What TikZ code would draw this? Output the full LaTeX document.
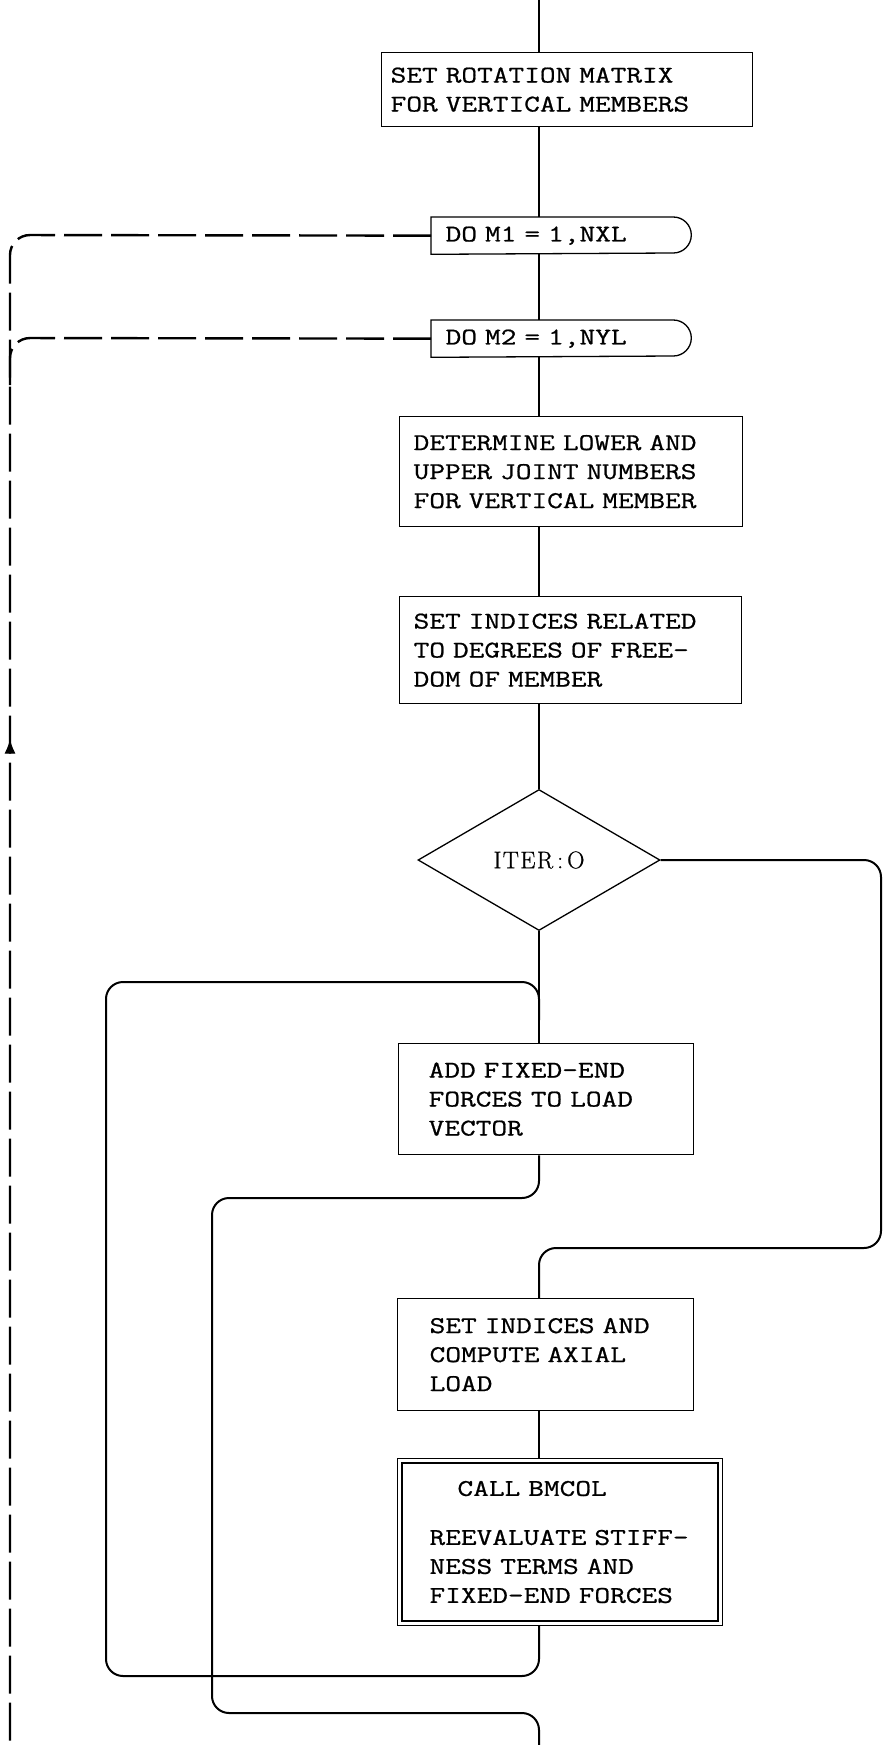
\documentclass[tikz,border=0pt]{standalone}
\usepackage{fontspec}
\newfontfamily\twfam{Latin Modern Mono}[FakeStretch=1.27,FakeBold=0.8]
\newfontfamily\itfam{Latin Modern Roman}[FakeBold=0.8,LetterSpace=6]
\usetikzlibrary{shapes.geometric,calc,arrows.meta,decorations.markings}
\newcommand{\lpad}[1]{\hspace*{#1pt}}
\newcommand{\twfont}{\twfam\fontsize{24}{29}\selectfont}
\begin{document}
\begin{tikzpicture}[x=1pt,y=1pt,
  box/.style={draw, line width=1.3pt, anchor=north west, inner xsep=0pt, inner ysep=0pt,
              align=left, font=\twfont},
  flow/.style={line width=1.4pt},
  loopline/.style={line width=2pt, rounded corners=17pt},
  dashline/.style={line width=2.4pt, dash pattern=on 38pt off 9pt, rounded corners=20pt},
]
\fill[white] (0,0) rectangle (884,-1745);
\useasboundingbox (0,0) rectangle (884,-1745);

% boxes
\node[box, text width=371pt, minimum height=74pt] (rot) at (381,-52)
  {\lpad{9}SET ROTATION MATRIX\\\lpad{9}FOR VERTICAL MEMBERS};

\node[box, draw=none, text width=259pt, minimum height=36pt] (do1) at (431,-217)
  {\lpad{14}DO M1 = 1,NXL};
\draw[line width=1.3pt] (do1.north west) -- ($(do1.north east)+(-18,0)$)
  arc[start angle=90,end angle=-90,radius=18pt] -- (do1.south west) -- cycle;

\node[box, draw=none, text width=259pt, minimum height=36pt] (do2) at (431,-320)
  {\lpad{14}DO M2 = 1,NYL};
\draw[line width=1.3pt] (do2.north west) -- ($(do2.north east)+(-18,0)$)
  arc[start angle=90,end angle=-90,radius=18pt] -- (do2.south west) -- cycle;

\node[box, text width=343pt, minimum height=110pt] (det) at (399,-416)
  {\lpad{14}DETERMINE LOWER AND\\\lpad{14}UPPER JOINT NUMBERS\\\lpad{14}FOR VERTICAL MEMBER};

\node[box, text width=342pt, minimum height=107pt] (rel) at (399,-596)
  {\lpad{14}SET INDICES RELATED\\\lpad{14}TO DEGREES OF FREE-\\\lpad{14}DOM OF MEMBER};

\node[diamond, draw, line width=1.3pt, minimum width=242pt, minimum height=141pt,
      inner sep=0pt, font=\itfam\fontsize{24}{26}\selectfont] (iter) at (539,-860) {ITER\,:\,O};

\node[box, text width=295pt, minimum height=111pt] (add) at (398,-1043)
  {\lpad{30}ADD FIXED-END\\\lpad{30}FORCES TO LOAD\\\lpad{30}VECTOR};

\node[box, text width=296pt, minimum height=112pt] (axial) at (397,-1298)
  {\lpad{32}SET INDICES AND\\\lpad{32}COMPUTE AXIAL\\\lpad{32}LOAD};

\node[box, line width=1pt, text width=325pt, minimum height=167pt] (bmcol) at (397,-1458)
  {\lpad{60}CALL BMCOL\\[20pt]\lpad{32}REEVALUATE STIFF-\\\lpad{32}NESS TERMS AND\\\lpad{32}FIXED-END FORCES};
\draw[line width=2pt] ($(bmcol.north west)+(5,-5)$) rectangle ($(bmcol.south east)+(-5,5)$);

% coordinates
\coordinate (top) at (539,0);
\coordinate (bot) at (539,-1745);
\coordinate (merge) at (539,-1020);
\coordinate (dbot) at (10,-1745);
\coordinate (djoin) at (10,-385);

% main flow
\draw[flow] (top) -- (top |- rot.north);
\draw[flow] (rot.south -| top) -- (do1.north -| top);
\draw[flow] (do1.south -| top) -- (do2.north -| top);
\draw[flow] (do2.south -| top) -- (det.north -| top);
\draw[flow] (det.south -| top) -- (rel.north -| top);
\draw[flow] (rel.south -| top) -- (iter.north);
\draw[flow] (iter.south) -- (add.north -| top);
\draw[flow] (axial.south -| top) -- (bmcol.north -| top);

% loops
\draw[loopline] (add.south -| top) -- (539,-1198) -- (212,-1198) -- (212,-1713) -- (539,-1713) -- (bot);
\draw[loopline] (bmcol.south -| top) -- (539,-1676) -- (106,-1676) -- (106,-982) -- (539,-982) -- (merge);
\draw[loopline] (iter.east) -- (881,-860) -- (881,-1248) -- (539,-1248) -- (axial.north -| top);

% dashed DO loops
\draw[dashline, postaction={decorate},
      decoration={markings, mark=at position 917pt with {\arrowreversed[line width=1pt]{Latex[length=14pt,width=11pt]}}}]
  (do1.west) -- (10,-235) -- (dbot);
\draw[dashline] (do2.west) -- (10,-338) -- (djoin);
\end{tikzpicture}
\end{document}
